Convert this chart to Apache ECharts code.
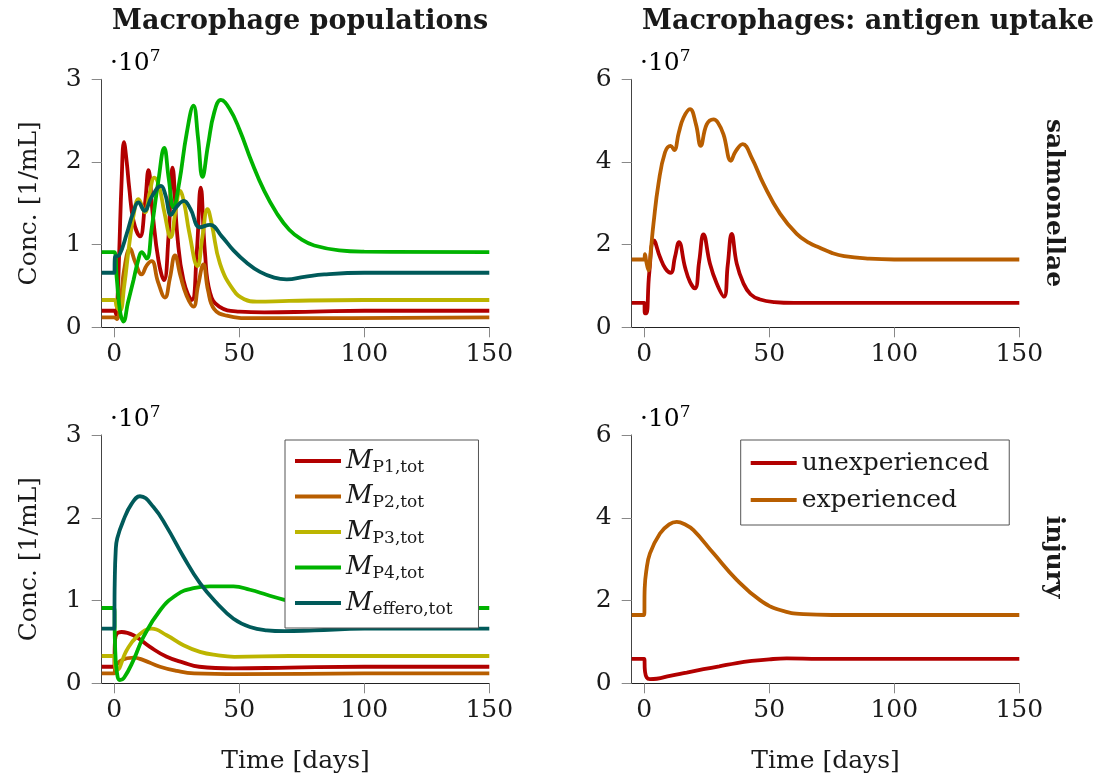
<!DOCTYPE html>
<html><head><meta charset="utf-8">
<script src="https://cdn.jsdelivr.net/npm/echarts@6/dist/echarts.min.js"></script>
<style>html,body{margin:0;padding:0;background:#fff}#c{width:1109px;height:783px}</style>
</head><body><div id="c"></div>
<script>
// ---- tick labels ----
const xTicks = [0, 50, 100, 150];
const popTicks = [0, 1, 2, 3];      // ·10^7
const uptakeTicks = [0, 2, 4, 6];   // ·10^7
const popNames = ['P1', 'P2', 'P3', 'P4', 'effero'];
const uptakeNames = ['unexperienced', 'experienced'];
const rowLabels = ['salmonellae', 'injury'];
const colTitles = ['Macrophage populations', 'Macrophages: antigen uptake'];

// ---- salmonellae: macrophage populations [day, value·1e7] ----
const salP1 = [[-5,0.2],[0,0.2],[0.8,0.15],[1.4,0.4],[2,0.9],[3,1.8],[3.9,2.24],[5,2.0],[6,1.69],[7.7,1.29],[10.3,1.1],[12.3,1.49],[13.7,1.9],[15.4,1.37],[17.7,0.81],[19.9,0.57],[21.7,1.09],[23.3,1.93],[25.3,1.09],[27.7,0.57],[31,0.33],[33,0.9],[34.6,1.69],[36.3,0.9],[38.3,0.42],[42,0.25],[50,0.19],[60,0.18],[80,0.19],[100,0.2],[150,0.2]];
const salP2 = [[-5,0.12],[0,0.12],[1,0.1],[2.5,0.3],[4,0.7],[6.3,0.95],[8.5,0.78],[11,0.64],[13,0.75],[15,0.8],[17.5,0.55],[20.3,0.36],[22.3,0.6],[24.3,0.87],[26.5,0.62],[29,0.38],[31.7,0.25],[33.5,0.5],[35.7,0.76],[37.5,0.45],[40,0.22],[45,0.14],[55,0.11],[80,0.11],[150,0.12]];
const salP3 = [[-5,0.33],[0,0.33],[1,0.25],[2.3,0.2],[4,0.5],[6,1.0],[8,1.4],[9.7,1.55],[12.3,1.39],[14,1.6],[16.1,1.81],[18,1.7],[20,1.4],[22.6,1.09],[24.5,1.4],[26.3,1.65],[28,1.5],[30,1.15],[33.3,0.74],[35.3,1.1],[37.3,1.43],[39,1.25],[42.3,0.77],[47.7,0.45],[52,0.34],[57,0.31],[70,0.32],[100,0.33],[150,0.33]];
const salP4 = [[-5,0.91],[0,0.91],[1,0.6],[2.3,0.2],[3.7,0.07],[5.5,0.3],[7.7,0.57],[9.5,0.8],[11,0.91],[13,0.83],[15,1.2],[17.7,1.78],[20,2.17],[21.8,1.8],[23.7,1.45],[26,1.75],[29,2.35],[31.7,2.68],[33.5,2.3],[35.3,1.82],[37.5,2.2],[40,2.6],[42.7,2.75],[46,2.65],[50,2.4],[55,2.0],[60,1.65],[65,1.38],[70,1.18],[75,1.06],[80,0.99],[90,0.93],[100,0.915],[150,0.91]];
const salEff = [[-5,0.66],[0,0.66],[0.3,0.85],[2,0.87],[5,1.13],[7.5,1.38],[9.7,1.51],[12.1,1.41],[15,1.58],[18.7,1.71],[20.5,1.6],[22.7,1.36],[25,1.46],[27.9,1.53],[30.5,1.43],[34.3,1.21],[38.3,1.24],[43,1.1],[47.7,0.93],[53,0.78],[58.3,0.67],[64,0.6],[69,0.58],[76,0.61],[84,0.64],[100,0.66],[150,0.66]];

// ---- salmonellae: antigen uptake ----
const salUnexp = [[-5,0.59],[0,0.59],[0.3,0.34],[0.9,0.34],[2,1.3],[3.9,2.1],[6.3,1.7],[8.5,1.42],[10.6,1.32],[12.3,1.7],[13.9,2.06],[16.3,1.46],[18.3,1.1],[20.3,0.94],[22,1.6],[23.7,2.25],[26.3,1.54],[29,1.06],[31.9,0.74],[33.4,1.5],[35,2.26],[37,1.54],[39.7,1.06],[42.5,0.8],[46,0.68],[52,0.61],[60,0.59],[150,0.59]];
const salExp = [[-5,1.64],[0,1.64],[0.3,1.77],[0.8,1.6],[1.7,1.38],[2.7,1.9],[3.7,2.5],[5.7,3.47],[8.3,4.23],[10.6,4.39],[12,4.29],[13.8,4.7],[15.7,5.07],[18.3,5.28],[20.7,4.91],[22.6,4.39],[25,4.91],[27.7,5.03],[29.5,4.95],[31.7,4.67],[34.7,4.03],[36.5,4.25],[39.4,4.43],[43,4.1],[47.7,3.47],[54.3,2.75],[61,2.26],[66,2.04],[70,1.93],[75,1.8],[80,1.72],[90,1.66],[100,1.64],[150,1.64]];

// ---- injury: macrophage populations ----
const injP1 = [[-5,0.2],[0,0.2],[0.3,0.5],[1,0.6],[3,0.62],[7.7,0.58],[14.3,0.44],[21,0.32],[27.7,0.25],[34,0.2],[47.7,0.18],[70,0.19],[100,0.2],[150,0.2]];
const injP2 = [[-5,0.12],[0,0.12],[0.5,0.2],[3,0.28],[7.7,0.31],[11.7,0.28],[18.3,0.2],[25,0.15],[32,0.12],[50,0.11],[100,0.12],[150,0.12]];
const injP3 = [[-5,0.33],[0,0.33],[0.3,0.22],[1,0.16],[5,0.4],[9,0.56],[15,0.66],[21,0.58],[27.7,0.46],[34.3,0.38],[41,0.34],[48,0.32],[70,0.33],[150,0.33]];
const injP4 = [[-5,0.91],[0,0.91],[0.3,0.5],[1,0.15],[2.3,0.04],[4,0.07],[7.7,0.28],[11.7,0.56],[18.3,0.88],[25,1.07],[31.7,1.15],[38.3,1.17],[47.7,1.17],[54.3,1.13],[61,1.07],[67.7,1.01],[75,0.96],[85,0.93],[100,0.915],[150,0.91]];
const injEff = [[-5,0.66],[0,0.66],[0.2,1.2],[0.6,1.6],[1.2,1.75],[3.7,1.97],[7,2.17],[10.3,2.26],[15.7,2.13],[21,1.89],[27.7,1.53],[34.3,1.21],[41,0.97],[47.7,0.78],[54.3,0.68],[61,0.64],[68,0.63],[80,0.64],[100,0.66],[150,0.66]];

// ---- injury: antigen uptake ----
const injUnexp = [[-5,0.59],[0,0.59],[0.3,0.3],[1,0.14],[2.3,0.1],[5,0.11],[10.3,0.18],[17,0.26],[23.7,0.34],[30,0.41],[37,0.49],[43,0.54],[50,0.58],[57,0.6],[70,0.59],[150,0.59]];
const injExp = [[-5,1.65],[0,1.65],[0.2,2.3],[0.8,2.7],[2.3,3.14],[6.3,3.62],[10,3.84],[13,3.9],[16,3.85],[19.7,3.7],[27.7,3.14],[37,2.5],[46.3,2.01],[54.3,1.77],[63.7,1.67],[75,1.65],[150,1.65]];

// ---- styling ----
const FONT = 'DejaVu Serif';
const popColors = ['#b20000', '#b85e00', '#bcb500', '#00b300', '#005a5a'];
const uptakeColors = ['#b20000', '#b85e00'];
const TXT = '#1a1a1a';

const grids = [
  {left: 101.7, top: 79.3, width: 387.6, height: 248},
  {left: 631.7, top: 79.3, width: 387.6, height: 248},
  {left: 101.7, top: 435, width: 387.6, height: 248.3},
  {left: 631.7, top: 435, width: 387.6, height: 248.3}
];

function xAx(i) {
  const bottom = i >= 2;
  return {
    type: 'value', gridIndex: i, min: -5, max: 150,
    axisLine: {show: true, onZero: false, lineStyle: {color: '#222', width: 1}},
    axisTick: {show: true, length: 10, customValues: xTicks, lineStyle: {color: '#888', width: 1}},
    axisLabel: {customValues: xTicks, margin: 15, fontFamily: FONT, fontSize: 25, color: TXT},
    splitLine: {show: false},
    name: bottom ? 'Time [days]' : '',
    nameLocation: 'middle', nameGap: 66,
    nameTextStyle: {fontFamily: FONT, fontSize: 25, color: TXT}
  };
}
function yAx(i) {
  const ticks = (i % 2 === 0) ? popTicks : uptakeTicks;
  return {
    type: 'value', gridIndex: i, min: ticks[0], max: ticks[ticks.length - 1],
    interval: ticks[1] - ticks[0],
    axisLine: {show: true, onZero: false, lineStyle: {color: '#444', width: 1}},
    axisTick: {show: true, length: 10, lineStyle: {color: '#888', width: 1}},
    axisLabel: {margin: 20, fontFamily: FONT, fontSize: 25, color: TXT},
    splitLine: {show: false},
    name: (i % 2 === 0) ? 'Conc. [1/mL]' : '',
    nameLocation: 'middle', nameGap: 60,
    nameTextStyle: {fontFamily: FONT, fontSize: 25, color: TXT}
  };
}

const series = [];
function addLine(name, data, color, idx) {
  series.push({
    type: 'line', name: name, data: data, xAxisIndex: idx, yAxisIndex: idx,
    symbol: 'none', smooth: 0.45,
    lineStyle: {color: color, width: 3.8}, itemStyle: {color: color},
    emphasis: {disabled: true}
  });
}
[salP1, salP2, salP3, salP4, salEff].forEach((d, k) => addLine(popNames[k], d, popColors[k], 0));
[salUnexp, salExp].forEach((d, k) => addLine(uptakeNames[k], d, uptakeColors[k], 1));
[injP1, injP2, injP3, injP4, injEff].forEach((d, k) => addLine(popNames[k], d, popColors[k], 2));
[injUnexp, injExp].forEach((d, k) => addLine(uptakeNames[k], d, uptakeColors[k], 3));

const legendBase = {
  orient: 'vertical', selectedMode: false, icon: 'rect', itemWidth: 46, itemHeight: 4,
  backgroundColor: '#fff', borderColor: '#555', borderWidth: 1, borderRadius: 0,
  itemGap: 7
};

const sci = (y) => ({
  type: 'text', y: y,
  style: {
    text: '{a|·10}{b|7}', verticalAlign: 'middle',
    rich: {
      a: {fontFamily: FONT, fontSize: 25, lineHeight: 30, color: TXT},
      b: {fontFamily: FONT, fontSize: 17, lineHeight: 30, verticalAlign: 'top', color: TXT, padding: [0, 0, 12, 0]}
    }
  }
});

const chart = echarts.init(document.getElementById('c'), null, {renderer: 'canvas'});
chart.setOption({
  animation: false,
  backgroundColor: '#fff',
  grid: grids,
  xAxis: [0, 1, 2, 3].map(xAx),
  yAxis: [0, 1, 2, 3].map(yAx),
  legend: [
    Object.assign({}, legendBase, {
      left: 285, top: 440, padding: [8, 26, 10, 10], itemGap: 7.5,
      data: popNames,
      formatter: n => '{m|M}{s|' + n + ',tot}',
      textStyle: {
        rich: {
          m: {fontFamily: FONT, fontStyle: 'italic', fontSize: 26, lineHeight: 30, color: TXT},
          s: {fontFamily: FONT, fontSize: 17, lineHeight: 10, verticalAlign: 'bottom', color: TXT}
        }
      }
    }),
    Object.assign({}, legendBase, {
      left: 740.7, top: 440, padding: [8, 20, 10, 10],
      data: uptakeNames,
      textStyle: {fontFamily: FONT, fontSize: 25, lineHeight: 30, color: TXT}
    })
  ],
  series: series,
  graphic: [
    {type: 'text', x: 112, y: 22, style: {text: colTitles[0], fontFamily: FONT, fontWeight: 'bold', fontSize: 27, fill: TXT, verticalAlign: 'middle'}},
    {type: 'text', x: 642, y: 22, style: {text: colTitles[1], fontFamily: FONT, fontWeight: 'bold', fontSize: 27, fill: TXT, verticalAlign: 'middle'}},
    Object.assign(sci(63), {x: 110}),
    Object.assign(sci(63), {x: 640}),
    Object.assign(sci(419), {x: 110}),
    Object.assign(sci(419), {x: 640}),
    {type: 'text', x: 1053, y: 203, rotation: -Math.PI / 2, style: {text: rowLabels[0], fontFamily: FONT, fontWeight: 'bold', fontSize: 25, fill: TXT, align: 'center', verticalAlign: 'middle'}},
    {type: 'text', x: 1053, y: 557, rotation: -Math.PI / 2, style: {text: rowLabels[1], fontFamily: FONT, fontWeight: 'bold', fontSize: 25, fill: TXT, align: 'center', verticalAlign: 'middle'}}
  ]
});
</script></body></html>
